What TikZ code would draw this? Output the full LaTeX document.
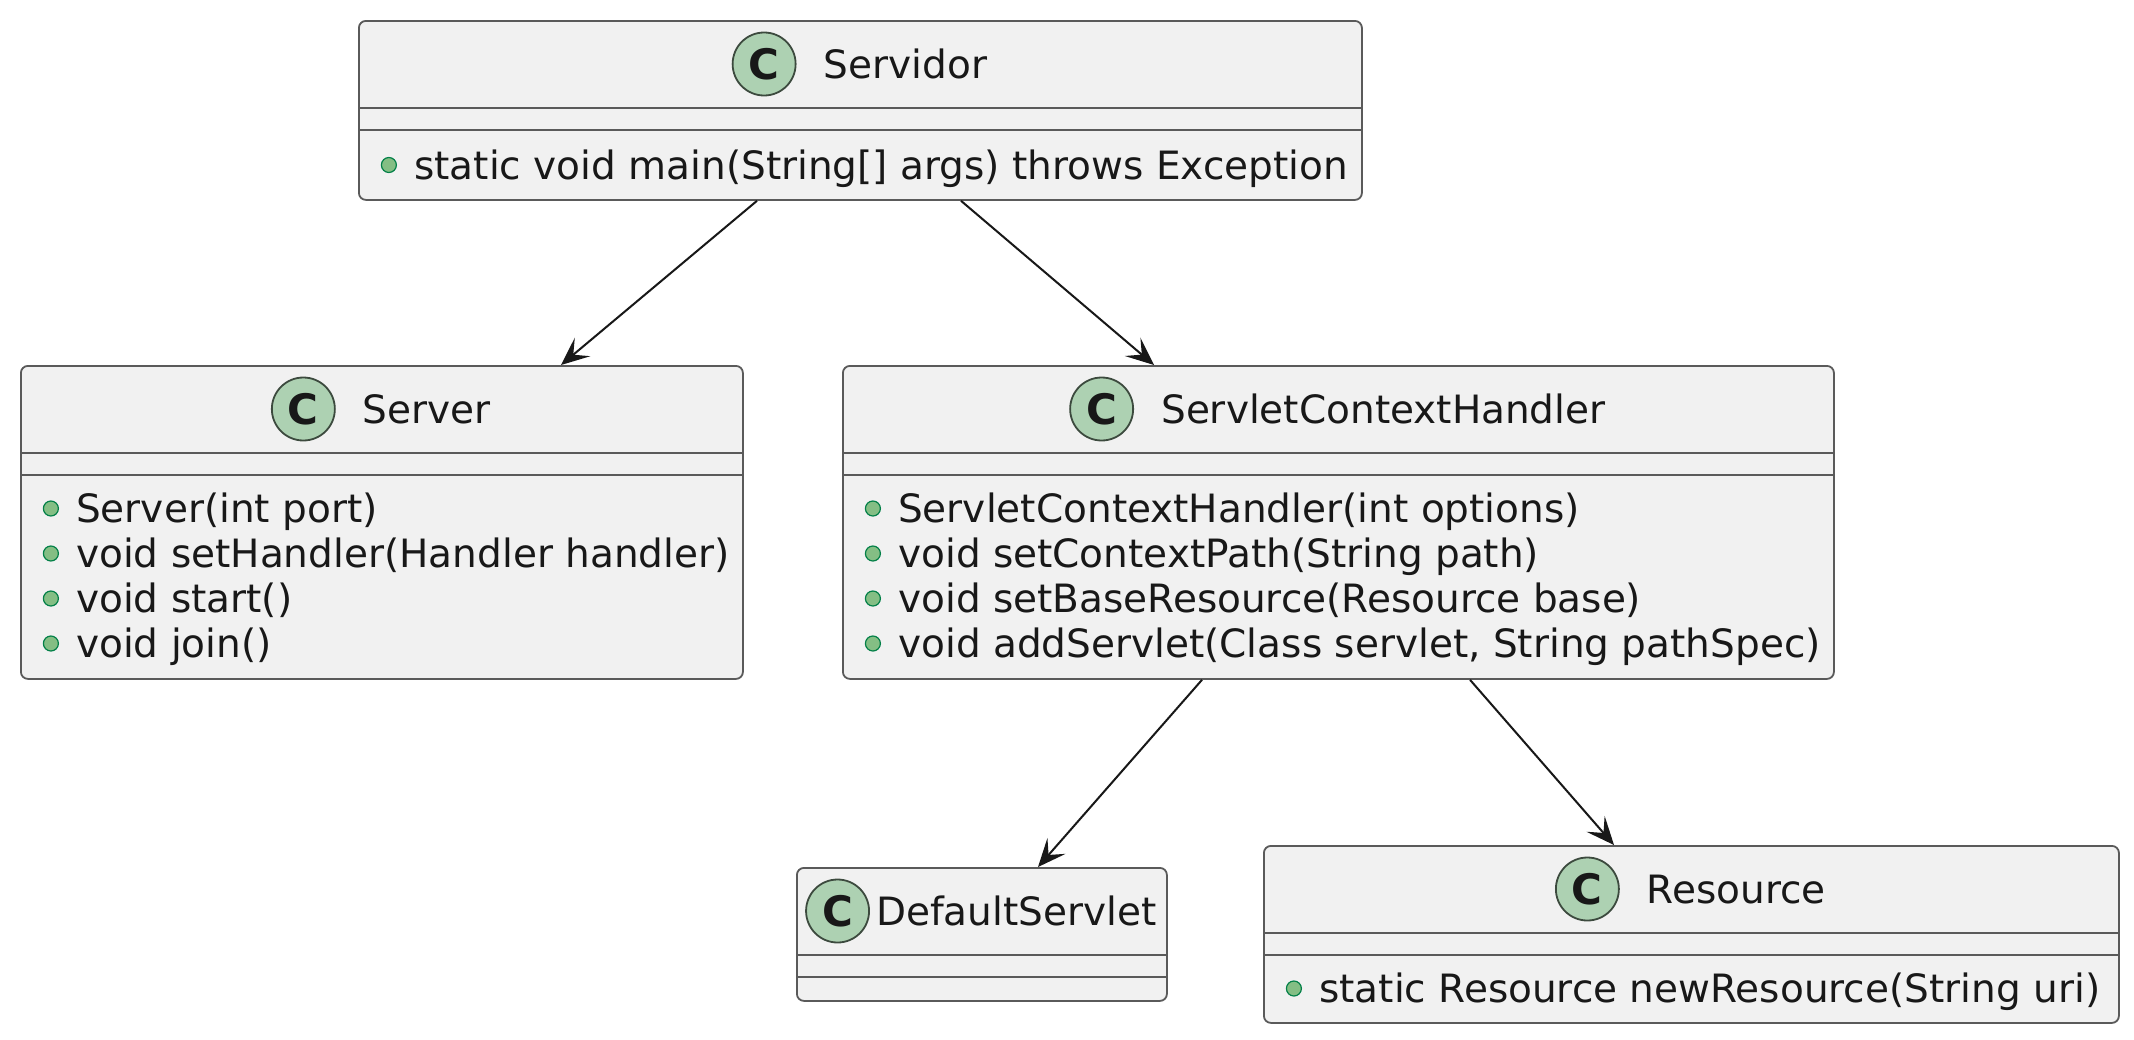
\documentclass[tikz,border=0pt]{standalone}
\usepackage{fontspec}
\setmainfont{DejaVu Sans}
\usetikzlibrary{arrows.meta,positioning,calc}
\definecolor{fg}{HTML}{181818}
\definecolor{bline}{HTML}{5A5A5A}
\definecolor{boxfill}{HTML}{F1F1F1}
\definecolor{iconfill}{HTML}{ADD1B2}
\definecolor{icondraw}{HTML}{3C4A3E}
\definecolor{dotfill}{HTML}{84BE84}
\definecolor{dotdraw}{HTML}{038048}

\begin{document}
\begin{tikzpicture}[
  x=1pt,y=-1pt,
  font=\fontsize{39pt}{45pt}\selectfont,
  every node/.append style={text=fg},
  cls/.style={draw=bline, line width=1.8pt, fill=boxfill, rounded corners=7pt, anchor=north west, inner sep=0pt},
  sep/.style={draw=bline, line width=1.8pt},
  cname/.style={inner sep=0pt, text height=28pt, text depth=0pt},
  icon/.style={circle, draw=icondraw, line width=1.8pt, fill=iconfill, minimum size=63pt, inner sep=0pt, font=\fontsize{42pt}{42pt}\selectfont\bfseries},
  member/.style={anchor=west, inner sep=0pt, text height=28pt, text depth=0pt},
  dot/.style={circle, draw=dotdraw, line width=1.2pt, fill=dotfill, minimum size=15pt, inner sep=0pt},
  uses/.style={->, draw=fg, line width=2pt},
  >={Stealth[length=28pt,width=24pt,inset=12pt]},
]
\fill[white] (0,0) rectangle (2134,1039);
\useasboundingbox (0,0) rectangle (2134,1039);
% Servidor
\node[cls, minimum width=1003pt, minimum height=179pt] (servidor) at (358,20) {};
\node[cname] (servidor-n) at ($(servidor.north)+(45,44)$) {Servidor};
\node[icon, left=27pt of servidor-n] (servidor-c) {C};
\node[member] (servidor-m1) at ($(servidor.north west)+(56,145)$) {static void main(String[] args) throws Exception};
\node[dot, left=17pt of servidor-m1] (servidor-d1) {};
% Server
\node[cls, minimum width=722pt, minimum height=313pt] (server) at (20,365) {};
\node[cname] (server-n) at ($(server.north)+(45,44)$) {Server};
\node[icon, left=27pt of server-n] (server-c) {C};
\foreach \t [count=\i] in {Server(int port), void setHandler(Handler handler), void start(), void join()} {
  \node[member] (server-m\i) at ($(server.north west)+(56,{143.5+45*(\i-1)})$) {\t};
  \node[dot, left=17pt of server-m\i] (server-d\i) {};
}
% ServletContextHandler
\node[cls, minimum width=991pt, minimum height=313pt] (handler) at (842,365) {};
\node[cname] (handler-n) at ($(handler.north)+(45,44)$) {ServletContextHandler};
\node[icon, left=27pt of handler-n] (handler-c) {C};
\foreach \t [count=\i] in {ServletContextHandler(int options), void setContextPath(String path),
    void setBaseResource(Resource base), {void addServlet(Class servlet, String pathSpec)}} {
  \node[member] (handler-m\i) at ($(handler.north west)+(56,{143.5+45*(\i-1)})$) {\t};
  \node[dot, left=17pt of handler-m\i] (handler-d\i) {};
}
% DefaultServlet
\node[cls, minimum width=370pt, minimum height=133pt] (default) at (796,867) {};
\node[cname] (default-n) at ($(default.north)+(34.5,44)$) {DefaultServlet};
\node[icon, left=6pt of default-n] (default-c) {C};
% Resource
\node[cls, minimum width=855pt, minimum height=177pt] (resource) at (1263,845) {};
\node[cname] (resource-n) at ($(resource.north)+(45,44)$) {Resource};
\node[icon, left=27pt of resource-n] (resource-c) {C};
\node[member] (resource-m1) at ($(resource.north west)+(56,143.5)$) {static Resource newResource(String uri)};
\node[dot, left=17pt of resource-m1] (resource-d1) {};
% compartment lines
\foreach \c in {servidor, server, handler, default, resource} {
  \draw[sep] ([yshift=-88pt]\c.north west) -- ([yshift=-88pt]\c.north east);
  \draw[sep] ([yshift=-110pt]\c.north west) -- ([yshift=-110pt]\c.north east);
}
% dependencies
\draw[uses] ([xshift=399pt]servidor.south west) -- ([xshift=541pt]server.north west);
\draw[uses] ([xshift=603pt]servidor.south west) -- ([xshift=312pt]handler.north west);
\draw[uses] ([xshift=360pt]handler.south west) -- ([xshift=242pt]default.north west);
\draw[uses] ([xshift=628pt]handler.south west) -- ([xshift=351pt]resource.north west);
\end{tikzpicture}
\end{document}
